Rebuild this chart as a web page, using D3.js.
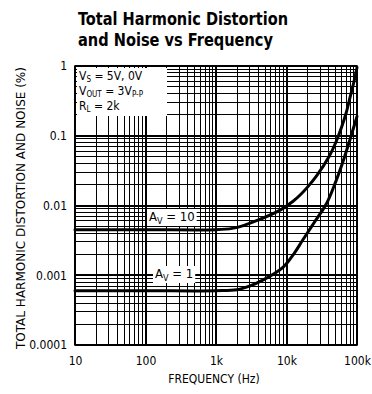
<!DOCTYPE html>
<html>
<head>
<meta charset="utf-8">
<script src="https://cdn.jsdelivr.net/npm/d3@7"></script>
<style>
body { margin: 0; background: #fff; }
svg { display: block; }
text { font-family: "DejaVu Sans Condensed", "Liberation Sans Narrow", Arial, sans-serif; fill: #000; }
.title { font-weight: bold; font-size: 18px; }
.tick-label { font-size: 12px; }
.axis-title { font-size: 12px; }
.note { font-size: 13px; }
.cond { font-size: 12px; }
.grid line { stroke: #000; shape-rendering: crispEdges; }
.curve { fill: none; stroke: #000; stroke-width: 3; stroke-linecap: round; }
</style>
</head>
<body>
<div id="chart"></div>
<script>
//////////////////////////////////////////////////////////////
//////////////////////// Data ////////////////////////////////
//////////////////////////////////////////////////////////////

// frequency (Hz) / THD+N (%)
const freqAv10 = [10, 100, 1000, 1700, 2500, 4000, 8000, 12400, 16000, 20000, 27000, 40000, 50000, 60000, 70000, 80000, 90000, 100000]
const thdAv10  = [0.0045, 0.0045, 0.0045, 0.0047, 0.0052, 0.0062, 0.0085, 0.0115, 0.0145, 0.0185, 0.027, 0.05, 0.08, 0.13, 0.21, 0.36, 0.58, 0.95]

const freqAv1 = [10, 100, 1000, 2000, 3000, 4600, 8900, 13000, 17000, 25000, 37000, 50000, 63000, 80000, 100000]
const thdAv1  = [0.0006, 0.0006, 0.0006, 0.00062, 0.0007, 0.00085, 0.0013, 0.0021, 0.0032, 0.0058, 0.0107, 0.022, 0.042, 0.09, 0.19]

const xTickValues = [10, 100, 1000, 10000, 100000]
const xTickLabels = ["10", "100", "1k", "10k", "100k"]
const yTickValues = [1, 0.1, 0.01, 0.001, 0.0001]
const yTickLabels = ["1", "0.1", "0.01", "0.001", "0.0001"]

const notes = [["V", "S", " = 5V, 0V"], ["V", "OUT", " = 3V", "P-P"], ["R", "L", " = 2k"]]

//////////////////////////////////////////////////////////////
//////////////////////// Create SVG //////////////////////////
//////////////////////////////////////////////////////////////

const W = 372, H = 394
const margin = { left: 75, top: 66, right: 15, bottom: 49 }
const width = W - margin.left - margin.right
const height = H - margin.top - margin.bottom

const root = d3.select("#chart").append("svg")
    .attr("width", W)
    .attr("height", H)

const svg = root.append("g")
    .attr("transform", "translate(" + [margin.left, margin.top] + ")")

//////////////////////////////////////////////////////////////
////////////////////// Create scales /////////////////////////
//////////////////////////////////////////////////////////////

const x = d3.scaleLog().domain([10, 100000]).range([0, width])
const y = d3.scaleLog().domain([0.0001, 1]).range([height, 0])

//////////////////////////////////////////////////////////////
///////////////////////// Titles /////////////////////////////
//////////////////////////////////////////////////////////////

root.append("text").attr("class", "title").attr("x", 78).attr("y", 25)
    .attr("textLength", 210).attr("lengthAdjust", "spacingAndGlyphs")
    .text("Total Harmonic Distortion")
root.append("text").attr("class", "title").attr("x", 78).attr("y", 46)
    .attr("textLength", 195).attr("lengthAdjust", "spacingAndGlyphs")
    .text("and Noise vs Frequency")

//////////////////////////////////////////////////////////////
///////////////////////// Gridlines //////////////////////////
//////////////////////////////////////////////////////////////

const isMajor = v => Math.abs(Math.log10(v) - Math.round(Math.log10(v))) < 1e-6

svg.append("g").attr("class", "grid")
    .selectAll("line").data(x.ticks())
    .enter().append("line")
    .attr("x1", d => x(d)).attr("x2", d => x(d))
    .attr("y1", 0).attr("y2", height)
    .style("stroke-width", d => isMajor(d) ? 2 : 1)

svg.append("g").attr("class", "grid")
    .selectAll("line").data(y.ticks())
    .enter().append("line")
    .attr("y1", d => y(d)).attr("y2", d => y(d))
    .attr("x1", 0).attr("x2", width)
    .style("stroke-width", d => isMajor(d) ? 2 : 1)

svg.append("rect")
    .attr("width", width).attr("height", height)
    .style("fill", "none").style("stroke", "#000").style("stroke-width", 1.6)

//////////////////////////////////////////////////////////////
/////////////////////////// Axes /////////////////////////////
//////////////////////////////////////////////////////////////

const xAxis = svg.append("g")
    .attr("transform", "translate(0," + height + ")")
    .call(d3.axisBottom(x).tickValues(xTickValues).tickSize(0).tickPadding(11)
        .tickFormat((d, i) => xTickLabels[i]))
xAxis.select(".domain").remove()
xAxis.selectAll("text").attr("class", "tick-label").attr("font-family", null).attr("font-size", null)

const yAxis = svg.append("g")
    .call(d3.axisLeft(y).tickValues(yTickValues).tickSize(0).tickPadding(8)
        .tickFormat((d, i) => yTickLabels[i]))
yAxis.select(".domain").remove()
yAxis.selectAll("text").attr("class", "tick-label").attr("font-family", null).attr("font-size", null)

root.append("text").attr("class", "axis-title")
    .attr("x", 214).attr("y", 383)
    .attr("text-anchor", "middle")
    .text("FREQUENCY (Hz)")

root.append("text").attr("class", "axis-title")
    .attr("transform", "translate(25,208) rotate(-90)")
    .attr("text-anchor", "middle")
    .attr("textLength", 282).attr("lengthAdjust", "spacingAndGlyphs")
    .text("TOTAL HARMONIC DISTORTION AND NOISE (%)")

//////////////////////////////////////////////////////////////
////////////////////////// Curves ////////////////////////////
//////////////////////////////////////////////////////////////

const line = d3.line()
    .x(d => x(d[0]))
    .y(d => y(d[1]))
    .curve(d3.curveCatmullRom.alpha(0.5))

svg.append("path").attr("class", "curve")
    .attr("d", line(d3.zip(freqAv10, thdAv10)))
svg.append("path").attr("class", "curve")
    .attr("d", line(d3.zip(freqAv1, thdAv1)))

//////////////////////////////////////////////////////////////
//////////////////////// Annotations /////////////////////////
//////////////////////////////////////////////////////////////

function label(px, py, base, sub, rest) {
    const t = svg.append("text").attr("class", "note").attr("x", px).attr("y", py)
    t.append("tspan").text(base)
    t.append("tspan").attr("font-size", "9px").attr("dy", 3).text(sub)
    t.append("tspan").attr("dy", -3).text(rest)
    const bb = t.node().getBBox()
    svg.insert("rect", "text.note")
        .attr("x", bb.x - 2).attr("y", bb.y).attr("width", bb.width + 4).attr("height", bb.height)
        .style("fill", "#fff")
    return t
}

label(149 - margin.left, 221 - margin.top, "A", "V", " = 10")
label(155 - margin.left, 278 - margin.top, "A", "V", " = 1")

// conditions box
svg.append("rect")
    .attr("x", 2).attr("y", 2).attr("width", 90).attr("height", 48)
    .style("fill", "#fff")

notes.forEach((n, i) => {
    const t = svg.append("text").attr("class", "cond").attr("x", 4).attr("y", 14 + i * 15)
    t.append("tspan").text(n[0])
    t.append("tspan").attr("font-size", "8px").attr("dy", 2).text(n[1])
    t.append("tspan").attr("dy", -2).text(n[2])
    if (n[3]) t.append("tspan").attr("font-size", "8px").attr("dy", 2).text(n[3])
})
</script>
</body>
</html>
